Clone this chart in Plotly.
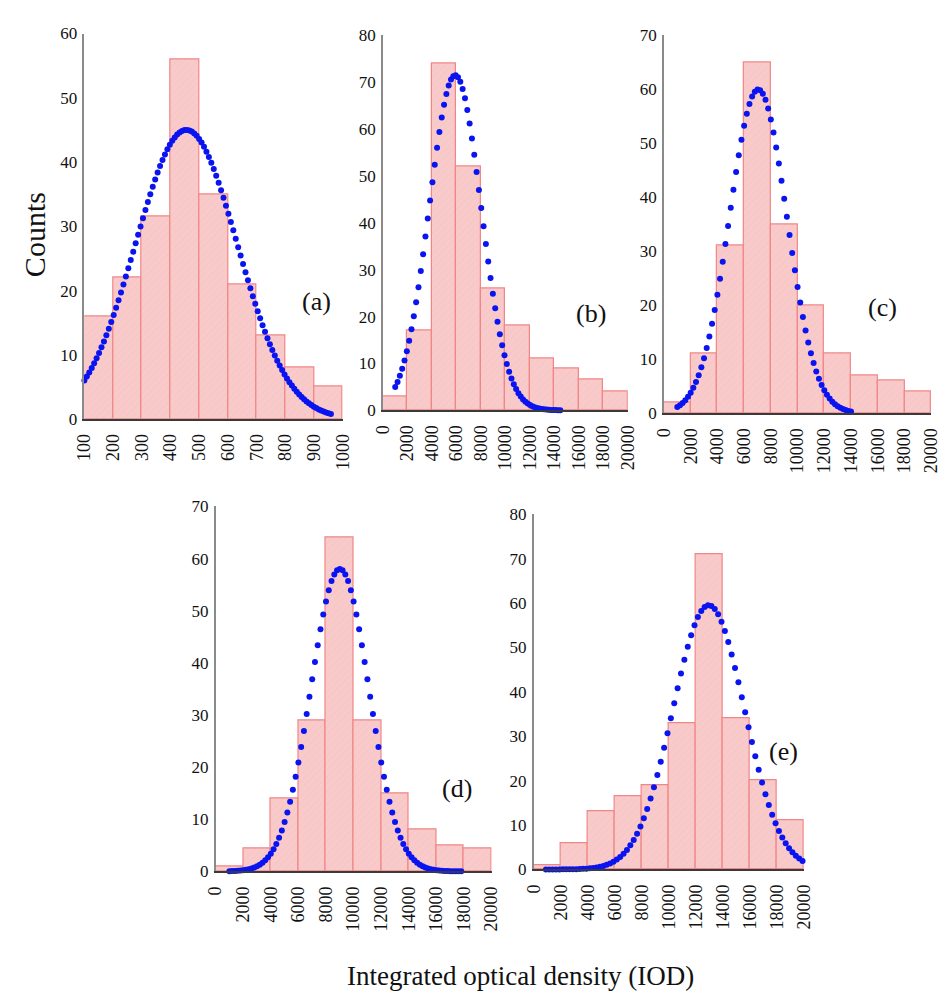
import numpy as np
import plotly.graph_objects as go

# ---------------- data ----------------
panel_labels = ["(a)", "(b)", "(c)", "(d)", "(e)"]

# bin left edges and widths
bins_a_start, bins_a_width = 100, 100
bins_bcde_start, bins_bcde_width = 0, 2000

counts_a = [16, 22, 31.5, 56, 35, 21, 13, 8, 5]
counts_b = [3, 17, 74, 52, 26, 18, 11, 9, 6.5, 4]
counts_c = [2, 11, 31, 65, 35, 20, 11, 7, 6, 4]
counts_d = [1, 4.5, 14, 29, 64, 29, 15, 8, 5, 4.5]
counts_e = [1, 6, 13, 16.5, 19, 33, 71, 34, 20, 11]

# fitted normal curves: (peak height, mean, sd, x from, x to, x step)
fit_a = (45, 455, 177, 100, 960, 8.5)
fit_b = (71.5, 5900, 2120, 1000, 14500, 190)
fit_c = (60, 7050, 2150, 1000, 14000, 200)
fit_d = (58, 9000, 2100, 1000, 17800, 200)
fit_e = (59.5, 12950, 2650, 900, 20000, 250)

xticks_a = [100, 200, 300, 400, 500, 600, 700, 800, 900, 1000]
xticks_big = [0, 2000, 4000, 6000, 8000, 10000, 12000, 14000, 16000, 18000, 20000]
yticks_60 = [0, 10, 20, 30, 40, 50, 60]
yticks_70 = [0, 10, 20, 30, 40, 50, 60, 70]
yticks_80 = [0, 10, 20, 30, 40, 50, 60, 70, 80]

x_title = "Integrated optical density (IOD)"
y_title = "Counts"

# ---------------- layout geometry (pixels) ----------------
W, H = 950, 1006
# (x_left, x_right, y_top_px, y_bottom_px)
boxes = [
    (76, 340, 25, 418),
    (381, 631, 27, 409),
    (668, 941, 27, 412),
    (210, 492, 507, 879),
    (535, 811, 515, 877),
]
label_pos = [(313, 298), (593, 310), (891, 304), (457, 794), (790, 757)]

panels = [
    (counts_a, bins_a_start, bins_a_width, fit_a, xticks_a, [100, 1000], yticks_60, [0, 60]),
    (counts_b, bins_bcde_start, bins_bcde_width, fit_b, xticks_big, [0, 20000], yticks_80, [0, 80]),
    (counts_c, bins_bcde_start, bins_bcde_width, fit_c, xticks_big, [0, 20000], yticks_70, [0, 70]),
    (counts_d, bins_bcde_start, bins_bcde_width, fit_d, xticks_big, [0, 20000], yticks_70, [0, 70]),
    (counts_e, bins_bcde_start, bins_bcde_width, fit_e, xticks_big, [0, 20000], yticks_80, [0, 80]),
]

FONT = "Liberation Serif"
bar_fill = "#f9caca"
bar_edge = "#f08686"
dot_color = "#0a14f0"

fig = go.Figure()
layout_axes = {}
for i, (counts, start, width, fit, xt, xr, yt, yr) in enumerate(panels):
    n = i + 1
    xa = "x" if n == 1 else f"x{n}"
    ya = "y" if n == 1 else f"y{n}"
    centers = [start + width * (k + 0.5) for k in range(len(counts))]
    fig.add_trace(go.Bar(
        x=centers, y=counts, width=[width] * len(counts),
        marker=dict(color=bar_fill, line=dict(color=bar_edge, width=1.2),
                    pattern=dict(shape="/", fgcolor="#f2b0b0", bgcolor=bar_fill,
                                 size=5, solidity=0.12)),
        xaxis=xa, yaxis=ya, showlegend=False, hoverinfo="skip",
    ))
    peak, mu, sd, x0, x1, step = fit
    fx = np.arange(x0, x1 + step / 2, step)
    fy = peak * np.exp(-((fx - mu) ** 2) / (2 * sd ** 2))
    fig.add_trace(go.Scatter(
        x=fx, y=fy, mode="markers",
        marker=dict(color=dot_color, size=6, line=dict(width=0)),
        xaxis=xa, yaxis=ya, showlegend=False, hoverinfo="skip", cliponaxis=False,
    ))
    xl, xrp, yt_px, yb_px = boxes[i]
    xkey = "xaxis" if n == 1 else f"xaxis{n}"
    ykey = "yaxis" if n == 1 else f"yaxis{n}"
    layout_axes[xkey] = dict(
        domain=[xl / W, xrp / W], range=xr, anchor=ya,
        tickmode="array", tickvals=xt, ticktext=[str(v) for v in xt],
        tickangle=-90, showgrid=False, zeroline=False,
        showline=True, linecolor="#3a3a3a", linewidth=1.6,
        ticks="", ticklabelstandoff=6,
        tickfont=dict(family=FONT, size=18, color="#111"),
    )
    layout_axes[ykey] = dict(
        domain=[1 - yb_px / H, 1 - yt_px / H], range=yr, anchor=xa,
        tickmode="array", tickvals=yt, ticktext=[str(v) for v in yt],
        showgrid=False, zeroline=False,
        showline=True, linecolor="#8a8a8a", linewidth=1.5,
        ticks="", ticklabelstandoff=2,
        tickfont=dict(family=FONT, size=17, color="#111"),
    )

annotations = []
for (lx, ly), lab in zip(label_pos, panel_labels):
    annotations.append(dict(
        x=lx / W, y=1 - ly / H, xref="paper", yref="paper", text=lab,
        showarrow=False, font=dict(family=FONT, size=26, color="#111"),
        xanchor="center", yanchor="middle",
    ))
annotations.append(dict(
    x=25 / W, y=1 - 230 / H, xref="paper", yref="paper", text=y_title,
    textangle=-90, showarrow=False, font=dict(family=FONT, size=30, color="#111"),
    xanchor="center", yanchor="middle",
))
annotations.append(dict(
    x=521 / W, y=1 - 986 / H, xref="paper", yref="paper", text=x_title,
    showarrow=False, font=dict(family=FONT, size=27, color="#111"),
    xanchor="center", yanchor="middle",
))

fig.update_layout(
    width=W, height=H, margin=dict(l=0, r=0, t=0, b=0),
    paper_bgcolor="white", plot_bgcolor="white",
    bargap=0, annotations=annotations, **layout_axes,
)

fig.write_html("out.html")
